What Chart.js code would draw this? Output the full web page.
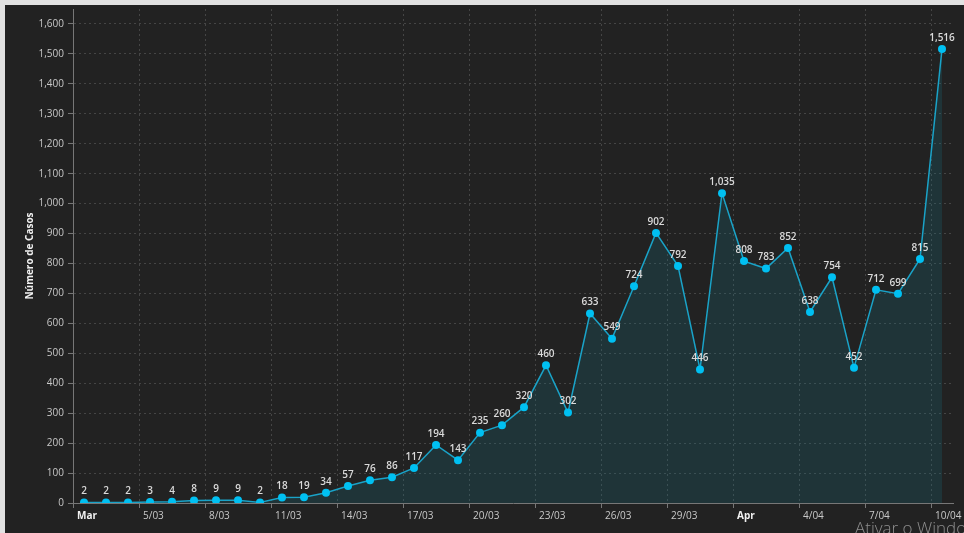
<!DOCTYPE html>
<html>
<head>
<meta charset="utf-8">
<script src="https://cdn.jsdelivr.net/npm/chart.js@4/dist/chart.umd.min.js"></script>
<style>
  html, body { margin: 0; padding: 0; width: 964px; height: 533px; overflow: hidden; background: #e2e2e2; }
  #wrap { position: absolute; left: 5px; top: 5px; width: 959px; height: 528px; background: #222222; }
  #mark { position: absolute; left: 855px; top: 516px; font: 300 17px "Open Sans", sans-serif; color: #8e8e8e; white-space: nowrap; }
</style>
</head>
<body>
<div id="wrap"><canvas id="casos"></canvas></div>
<div id="mark">Ativar o Windows</div>
<script>
/* ====== dados ====== */
const dias = [
  "2/03", "3/03", "4/03", "5/03", "6/03", "7/03", "8/03", "9/03", "10/03", "11/03",
  "12/03", "13/03", "14/03", "15/03", "16/03", "17/03", "18/03", "19/03", "20/03", "21/03",
  "22/03", "23/03", "24/03", "25/03", "26/03", "27/03", "28/03", "29/03", "30/03", "31/03",
  "1/04", "2/04", "3/04", "4/04", "5/04", "6/04", "7/04", "8/04", "9/04", "10/04",
];
const casos = [
  2, 2, 2, 3, 4, 8, 9, 9, 2, 18,
  19, 34, 57, 76, 86, 117, 194, 143, 235, 260,
  320, 460, 302, 633, 549, 724, 902, 792, 446, 1035,
  808, 783, 852, 638, 754, 452, 712, 699, 815, 1516,
];
const tickLabels = ["Mar", "5/03", "8/03", "11/03", "14/03", "17/03", "20/03", "23/03", "26/03", "29/03", "Apr", "4/04", "7/04", "10/04"];
const tickDias = tickLabels.map((_, i) => i * 3); // um rótulo a cada 3 dias

const FONT = '"Open Sans", "Noto Sans", sans-serif';
const fmt = (v) => Number(v).toLocaleString("en-US");

/* ====== rótulos de valor sobre os pontos ====== */
const rotulos = {
  id: "rotulos",
  afterDatasetsDraw(chart) {
    const { ctx } = chart;
    const meta = chart.getDatasetMeta(0);
    ctx.save();
    ctx.font = `600 10px ${FONT}`;
    ctx.fillStyle = "#dadada";
    ctx.textAlign = "center";
    ctx.textBaseline = "middle";
    meta.data.forEach((pt, i) => ctx.fillText(fmt(casos[i]), pt.x, pt.y - 11));
    ctx.restore();
  },
};

/* ====== gráfico ====== */
const grade = { color: "rgba(255,255,255,0.16)", tickColor: "#777", tickLength: 5 };
const borda = { color: "#777", width: 1, dash: [2, 3] }; // dash vale para as linhas de grade

new Chart(document.getElementById("casos"), {
  type: "line",
  data: {
    datasets: [{
      data: casos.map((v, i) => ({ x: i + 0.5, y: v })), // ponto no meio do dia
      borderColor: "#1aa3c8",
      borderWidth: 1.5,
      backgroundColor: "rgba(20,125,145,0.2)",
      fill: "origin",
      tension: 0,
      pointRadius: 4,
      pointBackgroundColor: "#00c0f2",
      pointBorderColor: "#00c0f2",
      pointBorderWidth: 0,
    }],
  },
  options: {
    responsive: true,
    maintainAspectRatio: false,
    animation: false,
    layout: { padding: { top: 2, right: 11, left: 0, bottom: 0 } },
    plugins: { legend: { display: false }, tooltip: { enabled: false } },
    scales: {
      x: {
        type: "linear",
        min: 0,
        max: dias.length,
        afterBuildTicks: (s) => { s.ticks = tickDias.map((v) => ({ value: v })); },
        afterFit: (s) => { s.height = 30; },
        grid: grade,
        border: borda,
        ticks: {
          autoSkip: false,
          maxRotation: 0,
          align: "start",
          labelOffset: 4,
          padding: 2,
          color: (c) => (c.index === 0 || c.index === 10 ? "#f2f2f2" : "#c8c8c8"),
          font: (c) => ({ family: FONT, size: 10, weight: c.index === 0 || c.index === 10 ? "700" : "400" }),
          callback: (v, i) => tickLabels[i],
        },
      },
      y: {
        min: 0,
        max: 1650,
        afterBuildTicks: (s) => { s.ticks = s.ticks.filter((t) => t.value % 100 === 0); },
        afterFit: (s) => { s.width = 68; s.paddingTop = 0; s.paddingBottom = 0; },
        grid: grade,
        border: borda,
        title: {
          display: true,
          text: "Número de Casos",
          color: "#f0f0f0",
          font: { family: FONT, size: 10, weight: "700" },
          padding: { top: 19, bottom: 0 },
        },
        ticks: {
          stepSize: 100,
          padding: 4,
          color: "#c8c8c8",
          font: { family: FONT, size: 10 },
          callback: fmt,
        },
      },
    },
  },
  plugins: [rotulos],
});
</script>
</body>
</html>
